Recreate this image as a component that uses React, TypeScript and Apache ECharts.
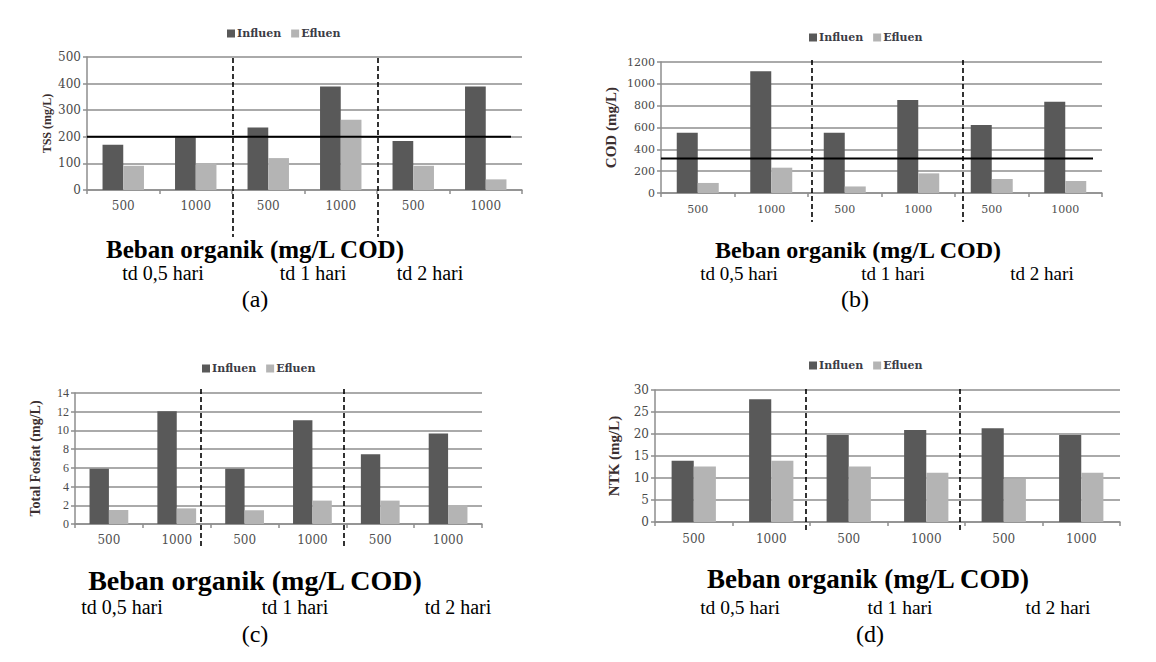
import React, { useEffect, useRef } from "react";
import * as echarts from "echarts";

// Organic load categories (mg/L COD) for each retention time
const categories = ["500", "1000", "500", "1000", "500", "1000"];
const retentionLabels = ["td 0,5 hari", "td 1 hari", "td 2 hari"];
const seriesNames = ["Influen", "Efluen"];
const xAxisTitle = "Beban organik (mg/L COD)";

// TSS (mg/L)
const tssInfluen = [170, 202, 235, 389, 184, 389];
const tssEfluen = [91, 101, 120, 264, 91, 40];
const tssStandard = 200;

// COD (mg/L)
const codInfluen = [552, 1115, 552, 852, 622, 835];
const codEfluen = [92, 232, 60, 180, 128, 110];
const codStandard = 316;

// Total Fosfat (mg/L)
const fosfatInfluen = [5.9, 12.05, 5.9, 11.1, 7.45, 9.67];
const fosfatEfluen = [1.5, 1.67, 1.47, 2.5, 2.5, 2.03];

// NTK (mg/L)
const ntkInfluen = [13.9, 27.9, 19.8, 20.9, 21.3, 19.8];
const ntkEfluen = [12.6, 13.9, 12.6, 11.2, 9.8, 11.2];

const INFLUEN_COLOR = "#595959";
const EFLUEN_COLOR = "#b4b4b4";
const GRID_COLOR = "#8e8e8e";

type Panel = {
  letter: string;
  yName: string;
  influen: number[];
  efluen: number[];
  max: number;
  interval: number;
  standard: number | null;
  standardEndX: number;
  grid: { left: number; top: number; width: number; height: number };
  yLabelFont: { size: number; family: string };
  xLabelSize: number;
  xLabelMargin: number;
  yNameSize: number;
  yNameGap: number;
  legend: { left: number; top: number };
  dashX: number[];
  dashY: [number, number];
  title: { x: number; y: number; size: number };
  tdY: number;
  tdX: number[];
  tdSize: number;
  letterPos: { x: number; y: number };
};

const panels: Panel[] = [
  {
    letter: "(a)",
    yName: "TSS (mg/L)",
    influen: tssInfluen,
    efluen: tssEfluen,
    max: 500,
    interval: 100,
    standard: tssStandard,
    standardEndX: 511,
    grid: { left: 87, top: 57, width: 435, height: 133 },
    yLabelFont: { size: 12, family: "DejaVu Serif" },
    xLabelSize: 12,
    xLabelMargin: 10,
    yNameSize: 12,
    yNameGap: 34,
    legend: { left: 222, top: 23 },
    dashX: [233, 378],
    dashY: [58, 237],
    title: { x: 255, y: 249, size: 25 },
    tdY: 273,
    tdX: [163, 313, 430],
    tdSize: 20,
    letterPos: { x: 255, y: 299 },
  },
  {
    letter: "(b)",
    yName: "COD (mg/L)",
    influen: codInfluen,
    efluen: codEfluen,
    max: 1200,
    interval: 200,
    standard: codStandard,
    standardEndX: 1093,
    grid: { left: 661, top: 62, width: 441, height: 131 },
    yLabelFont: { size: 11, family: "DejaVu Serif" },
    xLabelSize: 11,
    xLabelMargin: 11,
    yNameSize: 15,
    yNameGap: 43,
    legend: { left: 804, top: 27 },
    dashX: [812, 963],
    dashY: [60, 222],
    title: { x: 858, y: 250, size: 24 },
    tdY: 273,
    tdX: [739, 893, 1042],
    tdSize: 19,
    letterPos: { x: 855, y: 299 },
  },
  {
    letter: "(c)",
    yName: "Total Fosfat (mg/L)",
    influen: fosfatInfluen,
    efluen: fosfatEfluen,
    max: 14,
    interval: 2,
    standard: null,
    standardEndX: 0,
    grid: { left: 75, top: 393, width: 407, height: 131 },
    yLabelFont: { size: 12, family: "Liberation Serif" },
    xLabelSize: 12,
    xLabelMargin: 10,
    yNameSize: 14,
    yNameGap: 33,
    legend: { left: 197, top: 358 },
    dashX: [201, 344],
    dashY: [389, 547],
    title: { x: 255, y: 580, size: 28 },
    tdY: 607,
    tdX: [122, 295, 458],
    tdSize: 20,
    letterPos: { x: 255, y: 634 },
  },
  {
    letter: "(d)",
    yName: "NTK (mg/L)",
    influen: ntkInfluen,
    efluen: ntkEfluen,
    max: 30,
    interval: 5,
    standard: null,
    standardEndX: 0,
    grid: { left: 655, top: 390, width: 465, height: 132 },
    yLabelFont: { size: 12, family: "DejaVu Serif" },
    xLabelSize: 12,
    xLabelMargin: 11,
    yNameSize: 15,
    yNameGap: 34,
    legend: { left: 804, top: 355 },
    dashX: [806, 960],
    dashY: [389, 532],
    title: { x: 868, y: 579, size: 27 },
    tdY: 607,
    tdX: [740, 900, 1058],
    tdSize: 19.5,
    letterPos: { x: 870, y: 634 },
  },
];

function buildOption() {
  return {
    animation: false,
    backgroundColor: "#ffffff",
    grid: panels.map((p) => ({ ...p.grid, containLabel: false })),
    legend: panels.map((p) => ({
      data: seriesNames,
      left: p.legend.left,
      top: p.legend.top,
      icon: "rect",
      itemWidth: 8,
      itemHeight: 8,
      itemGap: 10,
      selectedMode: false,
      textStyle: {
        fontFamily: "DejaVu Serif",
        fontWeight: "bold",
        fontSize: 11,
        color: "#3c3c46",
        padding: [0, 0, 0, -3],
      },
    })),
    xAxis: panels.map((p, i) => ({
      type: "category",
      gridIndex: i,
      data: categories,
      axisLine: { show: true, lineStyle: { color: GRID_COLOR, width: 1.5 } },
      axisTick: { show: true, length: 4, lineStyle: { color: GRID_COLOR, width: 1.5 } },
      axisLabel: {
        color: "#505050",
        fontFamily: "DejaVu Serif",
        fontSize: p.xLabelSize,
        margin: p.xLabelMargin,
      },
      splitLine: { show: false },
    })),
    yAxis: panels.map((p, i) => ({
      type: "value",
      gridIndex: i,
      min: 0,
      max: p.max,
      interval: p.interval,
      name: p.yName,
      nameLocation: "middle",
      nameRotate: 90,
      nameGap: p.yNameGap,
      nameTextStyle: {
        fontFamily: "Liberation Serif",
        fontWeight: "bold",
        fontSize: p.yNameSize,
        color: "#3b2f30",
      },
      axisLine: { show: true, lineStyle: { color: GRID_COLOR, width: 1.5 } },
      axisTick: { show: true, length: 4, lineStyle: { color: GRID_COLOR, width: 1.5 } },
      axisLabel: {
        color: "#4a4a4a",
        fontFamily: p.yLabelFont.family,
        fontSize: p.yLabelFont.size,
        margin: 6,
        formatter: (v: number) => String(v),
      },
      splitLine: { show: true, lineStyle: { color: GRID_COLOR, width: 1.5 } },
    })),
    series: panels.flatMap((p, i) => [
      {
        name: seriesNames[0],
        type: "bar",
        xAxisIndex: i,
        yAxisIndex: i,
        data: p.influen,
        barGap: "0%",
        barCategoryGap: "42.86%",
        itemStyle: { color: INFLUEN_COLOR },
      },
      {
        name: seriesNames[1],
        type: "bar",
        xAxisIndex: i,
        yAxisIndex: i,
        data: p.efluen,
        barGap: "0%",
        barCategoryGap: "42.86%",
        itemStyle: { color: EFLUEN_COLOR },
      },
    ]),
  };
}

function buildGraphics(chart: echarts.ECharts) {
  const elements: any[] = [];
  panels.forEach((p, i) => {
    // Period separators
    p.dashX.forEach((x) => {
      elements.push({
        type: "line",
        shape: { x1: x, y1: p.dashY[0], x2: x, y2: p.dashY[1] },
        style: { stroke: "#000000", lineWidth: 1.6, lineDash: [5, 3] },
        z: 10,
      });
    });
    // Quality standard line, placed through the value axis scale
    if (p.standard !== null) {
      const y = chart.convertToPixel({ yAxisIndex: i }, p.standard) as number;
      elements.push({
        type: "line",
        shape: { x1: p.grid.left, y1: y, x2: p.standardEndX, y2: y },
        style: { stroke: "#000000", lineWidth: 2 },
        z: 11,
      });
    }
    elements.push({
      type: "text",
      x: p.title.x,
      y: p.title.y,
      style: {
        text: xAxisTitle,
        font: `bold ${p.title.size}px "Liberation Serif"`,
        fill: "#000000",
        textAlign: "center",
        textVerticalAlign: "middle",
      },
    });
    retentionLabels.forEach((label, k) => {
      elements.push({
        type: "text",
        x: p.tdX[k],
        y: p.tdY,
        style: {
          text: label,
          font: `${p.tdSize}px "Liberation Serif"`,
          fill: "#000000",
          textAlign: "center",
          textVerticalAlign: "middle",
        },
      });
    });
    elements.push({
      type: "text",
      x: p.letterPos.x,
      y: p.letterPos.y,
      style: {
        text: p.letter,
        font: `24px "Liberation Serif"`,
        fill: "#000000",
        textAlign: "center",
        textVerticalAlign: "middle",
      },
    });
  });
  return elements;
}

export default function App() {
  const ref = useRef<HTMLDivElement>(null);

  useEffect(() => {
    if (!ref.current) return;
    const chart = echarts.init(ref.current, undefined, { renderer: "svg" });
    chart.setOption(buildOption());
    chart.setOption({ graphic: buildGraphics(chart) });
    return () => {
      chart.dispose();
    };
  }, []);

  return (
    <div
      ref={ref}
      style={{
        position: "absolute",
        left: 0,
        top: 0,
        width: 1156,
        height: 662,
        background: "#ffffff",
      }}
    />
  );
}
